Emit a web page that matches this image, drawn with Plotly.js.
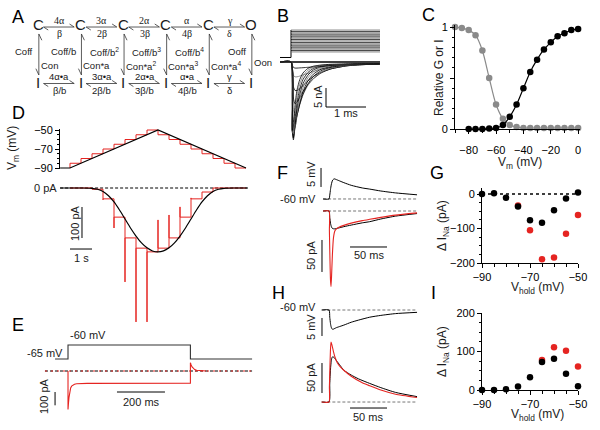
<!DOCTYPE html>
<html><head><meta charset="utf-8">
<script src="https://cdn.plot.ly/plotly-3.0.1.min.js"></script>
<style>html,body{margin:0;padding:0;background:#fff}#chart{width:600px;height:430px}</style>
</head><body><div id="chart"></div>
<script>
// ================= DATA =================
// A: kinetic scheme
const topStates = ['C','C','C','C','C','O'];
const bottomStates = ['I','I','I','I','I','I'];
const fwdTop = ['4α','3α','2α','α','γ'];
const bwdTop = ['β','2β','3β','4β','δ'];
const fwdBot = ['4α•a','3α•a','2α•a','α•a','γ'];
const bwdBot = ['β/b','2β/b','3β/b','4β/b','δ'];
const offLabels = ['Coff','Coff/b','Coff/b<sup>2</sup>','Coff/b<sup>3</sup>','Coff/b<sup>4</sup>','Ooff'];
const onLabels = ['Con','Con*a','Con*a<sup>2</sup>','Con*a<sup>3</sup>','Con*a<sup>4</sup>','Oon'];

// B: voltage steps (mV) and currents (nA) vs time (ms)
const bHold = -100;
const bStepLevels = [-80,-75,-70,-65,-60,-55,-50,-45,-40,-35,-30,-25,-20,-15,-10,-5,0];
const bTime = [-0.27,0,0.03,0.06,0.1,0.15,0.22,0.3,0.42,0.56,0.75,1.0,1.4,1.8,2.22];
const bI1  = [0,0,-0.8,-1.4,-1.6,-1.6,-1.55,-1.5,-1.4,-1.3,-1.1,-0.9,-0.7,-0.55,-0.5];
const bI2  = [0,0,-2,-3.5,-3.9,-3.9,-3.7,-3.4,-3.0,-2.5,-1.9,-1.4,-0.9,-0.6,-0.5];
const bI3  = [0,0,-3.5,-6.5,-7.5,-7.5,-7.0,-6.2,-5.0,-3.8,-2.7,-1.8,-1.0,-0.7,-0.5];
const bI4  = [0,0,-5,-9.5,-11,-10.5,-9.3,-7.8,-6.0,-4.4,-2.9,-1.8,-1.0,-0.7,-0.5];
const bI5  = [0,0,-7,-12.5,-14,-12.8,-10.8,-8.6,-6.2,-4.3,-2.7,-1.6,-0.9,-0.6,-0.5];
const bI6  = [0,0,-9,-15.5,-16.2,-14,-11.2,-8.5,-5.8,-3.8,-2.3,-1.4,-0.8,-0.6,-0.5];
const bI7  = [0,0,-11.5,-18,-17.3,-14.2,-10.8,-7.8,-5.0,-3.2,-1.9,-1.2,-0.7,-0.55,-0.5];
const bI8  = [0,0,-14,-19.8,-17.5,-13.5,-9.8,-6.8,-4.2,-2.6,-1.6,-1.0,-0.7,-0.5,-0.45];
const bI9  = [0,0,-16.5,-20.5,-16.8,-12.2,-8.5,-5.7,-3.5,-2.1,-1.3,-0.9,-0.6,-0.5,-0.45];
const bI10 = [0,0,-18,-20,-15.3,-10.6,-7.1,-4.6,-2.8,-1.7,-1.1,-0.8,-0.6,-0.5,-0.45];
const bI11 = [0,0,-18.5,-18.8,-13.5,-9.0,-5.8,-3.7,-2.2,-1.4,-0.9,-0.7,-0.55,-0.45,-0.4];
const bI12 = [0,0,-18,-17,-11.5,-7.4,-4.6,-2.9,-1.7,-1.1,-0.8,-0.6,-0.5,-0.45,-0.4];
const bCurrents = [bI1,bI2,bI3,bI4,bI5,bI6,bI7,bI8,bI9,bI10,bI11,bI12];

// C: relative G (activation) and I (inactivation)
const cInactV = [-90,-85,-80,-75,-70,-65,-60,-55,-50,-45,-40,-35,-30,-25,-20,-15,-10,-5,0];
const cInact  = [1.0,0.99,0.97,0.92,0.77,0.50,0.24,0.10,0.04,0.02,0.01,0.01,0.01,0.01,0.01,0.01,0.01,0.01,0.01];
const cActV = [-80,-75,-70,-65,-60,-55,-50,-45,-40,-35,-30,-25,-20,-15,-10,-5,0];
const cAct  = [0,0,0,0.005,0.01,0.04,0.12,0.24,0.40,0.56,0.68,0.78,0.85,0.91,0.94,0.97,0.98];

// D: ramp vs staircase (time in s, V in mV, I in pA)
const dRampT = [-0.45,0,4,8];
const dRampV = [-90,-90,-50,-90];
const dStepT = [0,0.5,1,1.5,2,2.5,3,3.5,4,4.5,5,5.5,6,6.5,7,7.5];
const dStepDur = 0.5;
const dStepV = [-85,-80,-75,-70,-65,-60,-55,-50,-55,-60,-65,-70,-75,-80,-85,-90];
const dStepSpike = [0,0,-4,-38,-129,-303,-432,-432,-103,-87,-61,-32,-13,0,0,0];
const dStepLevel = [0,0,-4,-35,-94,-161,-194,-206,-194,-161,-94,-35,-13,0,0,0];
const dFitT = [-0.45,0,0.5,1,1.25,1.5,1.75,2,2.25,2.5,2.75,3,3.25,3.5,3.75,4,4.25,4.5,4.75,5,5.25,5.5,5.75,6,6.25,6.5,6.75,7,7.5,8.05];
const dFitI = [0,0,0,-1,-4,-11,-25,-45,-71,-100,-129,-155,-177,-193,-203,-206,-203,-193,-177,-155,-129,-100,-71,-45,-25,-11,-4,-1,0,0];

// E: step -65 -> -60 mV (time ms, I pA)
const eVT = [-54,0,0,510,510,767];
const eVV = [-65,-65,-60,-60,-65,-65];
const eIT = [0,0,2,4,6,8,11,15,20,27,36,50,80,510,510,513,517,522,528,536,546,560,575];
const eII = [0,-290,-240,-200,-170,-148,-128,-114,-106,-100,-96,-94,-93,-92,62,45,30,19,11,6,3,1,0];

// F: depolarizing waveform (time ms)
const fT  = [-8,0,1,2,3,4,5,7,10,15,20,30,45,55,70,90,119];
const fV  = [-60,-60,-59,-57.5,-56.3,-55.5,-55.0,-54.7,-54.9,-55.3,-55.7,-56.4,-57.1,-57.4,-57.9,-58.4,-58.9];
const fIBlack = [0,0,-10,-19,-24,-26.5,-27.5,-28,-27.3,-26,-24.5,-22,-18.5,-16.7,-12.5,-8,-4];
const fTRed = [-8,0,0.5,1,1.5,2,2.7,3.5,4.5,6,8,10,14,20,30,45,55,70,90,119];
const fIRed = [0,0,-30,-60,-88,-108,-118,-100,-70,-42,-31,-28,-25,-22.5,-19,-15,-13,-10,-6.5,-3];

// H: hyperpolarizing waveform
const hT  = [-10,0,1,2,3,4,5,7,10,15,20,30,40,55,70,90,119];
const hV  = [-60,-60,-62,-63.8,-64.8,-65.2,-65.4,-65.2,-64.9,-64.55,-64.2,-63.4,-62.8,-62.0,-61.5,-61.0,-60.65];
const hIBlack = [0,0,30,55,68,74,75.5,74,69,61,53,45,38.5,31,24,16,9];
const hTRed = [-10,0,0.5,1,1.5,2,2.7,4,6,8,11,15,20,30,45,55,70,90,119];
const hIRed = [0,0,25,48,70,88,100,95,84,75,66,59,53,43,32,27,20,13,7.5];

// G / I: delta I_Na vs holding potential
const gV = [-90,-85,-80,-75,-70,-65,-60,-55,-50];
const gBlack = [0,2,-11,-36,-76,-83,-47,-13,4];
const gRedV = [-75,-70,-65,-60,-55,-50];
const gRed  = [-33,-105,-189,-184,-115,-61];
const iBlack = [0,0,2,9,33,73,81,42,10];
const iRedV = [-65,-60,-55,-50];
const iRed  = [78,111,102,61];

// ================= LAYOUT HELPERS =================
const W = 600, H = 430;
const FONT = 'Arial, "Liberation Sans", Helvetica, sans-serif';
const SERIF = '"Liberation Serif", "DejaVu Serif", serif';
const RED = '#e52421', GRAY = '#8a8a8a', DGRAY = '#777';
const xd = (a, b) => [a / W, b / W];
const yd = (top, bottom) => [1 - bottom / H, 1 - top / H];
const traces = [];
function L(xa, ya, x, y, o) {
  o = o || {};
  traces.push({type: 'scatter', mode: 'lines', xaxis: xa, yaxis: ya, x: x, y: y,
    hoverinfo: 'skip', showlegend: false, cliponaxis: false,
    line: {color: o.color || '#000', width: o.width || 1, dash: o.dash || 'solid',
      shape: o.shape || 'linear', smoothing: o.smoothing === undefined ? 1 : o.smoothing}});
}
function M(xa, ya, x, y, color, size) {
  traces.push({type: 'scatter', mode: 'markers', xaxis: xa, yaxis: ya, x: x, y: y,
    hoverinfo: 'skip', showlegend: false, cliponaxis: false,
    marker: {color: color, size: size || 6.5, line: {width: 0}}});
}
const hidden = (domx, domy, rx, ry, ax) => [
  {domain: domx, range: rx, visible: false, fixedrange: true, anchor: 'y' + ax},
  {domain: domy, range: ry, visible: false, fixedrange: true, anchor: 'x' + ax}];
const axStyle = {visible: true, showline: true, linecolor: '#000', linewidth: 1, ticks: 'outside',
  ticklen: 4, tickwidth: 1, tickcolor: '#000', showgrid: false, zeroline: false,
  tickfont: {size: 11, color: '#000', family: FONT}, fixedrange: true};

const layout = {width: W, height: H, margin: {l: 0, r: 0, t: 0, b: 0},
  paper_bgcolor: '#fff', plot_bgcolor: 'rgba(0,0,0,0)', showlegend: false,
  font: {family: FONT, color: '#1a1a1a', size: 11}, annotations: []};

// Panel A scheme axis: state index -> pixels
const A_X0 = 38, A_DX = 42.6, A_Y0 = 82, A_DY = 58;
const aPx = i => A_X0 + A_DX * i;
const aPy = v => A_Y0 - A_DY * v;
function ann(text, x, y, o) {
  o = o || {};
  layout.annotations.push({text: text, x: x / W, y: 1 - y / H, xref: 'paper', yref: 'paper',
    showarrow: false, xanchor: o.xanchor || 'center', yanchor: 'middle', textangle: o.angle || 0,
    font: {size: o.size || 11, color: o.color || '#1a1a1a', family: o.family || FONT}});
}
function schemeText(xs, ys, texts, size, xanchor, family) {
  xs.forEach((x, i) => ann(texts[i], aPx(x), aPy(ys[i]), {size: size, xanchor: xanchor, family: family}));
}

// ================= PANEL A =================
const idx = topStates.map((_, i) => i);
const mid = fwdTop.map((_, i) => i + 0.5);
const aCol = '#333';
for (let i = 0; i < fwdTop.length; i++) {
  L('x', 'y', [i + 0.13, i + 0.85], [0.948, 0.948], {color: aCol, width: 0.8});
  L('x', 'y', [i + 0.85, i + 0.74], [0.948, 1.0], {color: aCol, width: 0.8});
  L('x', 'y', [i + 0.13, i + 0.24], [0.948, 0.896], {color: aCol, width: 0.8});
  L('x', 'y', [i + 0.13, i + 0.85], [-0.026, -0.026], {color: aCol, width: 0.8});
  L('x', 'y', [i + 0.85, i + 0.74], [-0.026, 0.026], {color: aCol, width: 0.8});
  L('x', 'y', [i + 0.13, i + 0.24], [-0.026, -0.078], {color: aCol, width: 0.8});
}
idx.forEach(i => {
  L('x', 'y', [i + 0.02, i + 0.02], [0.828, 0.121], {color: aCol, width: 0.8});
  L('x', 'y', [i + 0.02, i + 0.09], [0.828, 0.72], {color: aCol, width: 0.8});
  L('x', 'y', [i + 0.02, i - 0.05], [0.121, 0.23], {color: aCol, width: 0.8});
});
schemeText(idx, idx.map(() => 1), topStates, 15);
schemeText(idx, idx.map(() => 0), bottomStates, 15);
schemeText(mid, mid.map(() => 1.06), fwdTop, 10, 'center', SERIF);
schemeText(mid, mid.map(() => 0.84), bwdTop, 10, 'center', SERIF);
schemeText(mid, mid.map(() => 0.09), fwdBot, 9.5);
schemeText(mid, mid.map(() => -0.14), bwdBot, 9.5);
schemeText(idx.map(i => i - 0.06), idx.map(() => 0.52), offLabels, 9.5, 'right');
// "on" labels sit right of each vertical arrow; centred on an estimated label centre
const onCentre = [0.26, 0.37, 0.41, 0.41, 0.41, 0.28];
schemeText(idx.map(i => i + onCentre[i]), idx.map(i => i === 5 ? 0.33 : 0.28), onLabels, 9.5, 'center');

// ================= PANEL B =================
L('x2', 'y2', [-0.275, 0, 0], [bHold, bHold, bStepLevels[bStepLevels.length - 1]], {color: '#000', width: 1});
bStepLevels.forEach((v, k) => L('x2', 'y2', [0, 2.225], [v, v], {color: k % 2 ? '#000' : DGRAY, width: 0.8}));
L('x3', 'y3', [-0.275, 2.225], [0, 0], {color: '#000', width: 1.4});
bCurrents.forEach((arr, k) => L('x3', 'y3', bTime, arr, {color: k % 3 === 1 ? DGRAY : '#000', width: 0.8, shape: 'spline', smoothing: 0.6}));
L('x3', 'y3', [0.875, 0.875, 1.875], [-6.84, -11.84, -11.84], {width: 1});

// ================= PANEL C =================
L('x4', 'y4', cInactV, cInact, {color: GRAY, width: 1.2, shape: 'spline', smoothing: 0.8});
L('x4', 'y4', cActV, cAct, {color: '#000', width: 1.2, shape: 'spline', smoothing: 0.8});
M('x4', 'y4', cInactV, cInact, GRAY, 6.5);
M('x4', 'y4', cActV, cAct, '#000', 6.5);

// ================= PANEL D =================
const dRedVx = [0], dRedVy = [-90];
dStepT.forEach((t, k) => { dRedVx.push(t, t + dStepDur); dRedVy.push(dStepV[k], dStepV[k]); });
L('x5', 'y5', dRedVx, dRedVy, {color: RED, width: 1});
L('x5', 'y5', dRampT, dRampV, {color: '#000', width: 1.2});
L('x6', 'y6', [-0.45, 8.09], [0, 0], {color: '#000', width: 1, dash: '3px,2px'});
const dRedIx = [0], dRedIy = [0];
dStepT.forEach((t, k) => { dRedIx.push(t, t, t + dStepDur); dRedIy.push(dStepSpike[k], dStepLevel[k], dStepLevel[k]); });
L('x6', 'y6', dRedIx, dRedIy, {color: RED, width: 1});
L('x6', 'y6', dFitT, dFitI, {color: '#000', width: 1.2, shape: 'spline', smoothing: 0.8});
L('x6', 'y6', [0.545, 0.545], [-61.3, -161.3], {width: 1});
L('x6', 'y6', [0, 1], [-196.8, -196.8], {width: 1});

// ================= PANEL E =================
L('x7', 'y7', eVT, eVV, {color: '#333', width: 1.1});
L('x8', 'y8', [-96, 767], [0, 0], {color: '#000', width: 1, dash: '3px,2px'});
L('x8', 'y8', [-96, 767], [0, 0], {color: RED, width: 1, dash: '2px,4px'});
L('x8', 'y8', eIT, eII, {color: RED, width: 1.1});
L('x8', 'y8', [-54, -54], [-158, -258], {width: 1});
L('x8', 'y8', [204, 404], [-158, -158], {width: 1});

// ================= PANEL F =================
L('x9', 'y9', [-8, 119], [-60, -60], {color: DGRAY, width: 1, dash: '3px,2px'});
L('x9', 'y9', fT, fV, {color: '#000', width: 1, shape: 'spline', smoothing: 0.6});
L('x10', 'y10', [-8, 119], [0, 0], {color: DGRAY, width: 1, dash: '3px,2px'});
L('x10', 'y10', fT, fIBlack, {color: '#000', width: 1, shape: 'spline', smoothing: 0.6});
L('x10', 'y10', fTRed, fIRed, {color: RED, width: 1.1, shape: 'spline', smoothing: 0.5});
L('x9', 'y9', [-10.8, -10.8], [-51.84, -56.84], {width: 1});
L('x10', 'y10', [-9.5, -9.5], [-45.3, -95.3], {width: 1});
L('x10', 'y10', [28.4, 78.4], [-56.25, -56.25], {width: 1});

// ================= PANEL H =================
L('x11', 'y11', [-9, 119], [-60, -60], {color: DGRAY, width: 1, dash: '3px,2px'});
L('x11', 'y11', hT, hV, {color: '#000', width: 1, shape: 'spline', smoothing: 0.6});
L('x12', 'y12', [-9, 119], [0, 0], {color: DGRAY, width: 1, dash: '3px,2px'});
L('x12', 'y12', hT, hIBlack, {color: '#000', width: 1, shape: 'spline', smoothing: 0.6});
L('x12', 'y12', hTRed, hIRed, {color: RED, width: 1.1, shape: 'spline', smoothing: 0.5});
L('x11', 'y11', [-9.5, -9.5], [-62.22, -67.22], {width: 1});
L('x12', 'y12', [-9.5, -9.5], [65, 15], {width: 1});
L('x12', 'y12', [28.4, 78.4], [-10, -10], {width: 1});

// ================= PANEL G / I =================
L('x13', 'y13', [-90, -50], [0, 0], {color: '#000', width: 1.3, dash: 'dot'});
M('x13', 'y13', gRedV, gRed, RED, 6.5);
M('x13', 'y13', gV, gBlack, '#000', 6.5);
M('x14', 'y14', iRedV, iRed, RED, 6.5);
M('x14', 'y14', gV, iBlack, '#000', 6.5);

// ================= AXES =================
function setAx(n, pair) {
  layout[n === 1 ? 'xaxis' : 'xaxis' + n] = pair[0];
  layout[n === 1 ? 'yaxis' : 'yaxis' + n] = pair[1];
}
setAx(1, hidden(xd(0, 280), yd(0, 110), [(0 - A_X0) / A_DX, (280 - A_X0) / A_DX],
  [(A_Y0 - 110) / A_DY, (A_Y0 - 0) / A_DY], ''));
layout.xaxis.anchor = 'y'; layout.yaxis.anchor = 'x';
setAx(2, hidden(xd(280, 382), yd(24, 62), [-0.275, 2.275], [-116.4, 21.8], 2));
setAx(3, hidden(xd(280, 382), yd(56, 145), [-0.275, 2.275], [-21.84, 1.58], 3));
setAx(4, [
  Object.assign({}, axStyle, {domain: xd(455, 579.5), range: [-90, 1], anchor: 'y4',
    tickmode: 'linear', tick0: -80, dtick: 20, ticklabelstandoff: 7,
    minor: {ticks: 'outside', ticklen: 2.5, tickcolor: '#000', tick0: -90, dtick: 10}}),
  Object.assign({}, axStyle, {domain: yd(25, 129), range: [0, 1.02], anchor: 'x4',
    tickmode: 'array', tickvals: [0, 0.5, 1], ticktext: ['0', '', '1'],
    minor: {ticks: 'outside', ticklen: 2.5, tickcolor: '#000', tick0: 0, dtick: 0.1}})]);
setAx(5, [
  {domain: xd(60, 250), range: [-0.4545, 8.182], visible: false, fixedrange: true, anchor: 'y5'},
  Object.assign({}, axStyle, {domain: yd(129, 169), range: [-91.05, -48.95], anchor: 'x5',
    tickmode: 'linear', tick0: -90, dtick: 20,
    minor: {ticks: 'outside', ticklen: 2.5, tickcolor: '#000', tick0: -90, dtick: 5}})]);
setAx(6, hidden(xd(60, 250), yd(180, 330), [-0.4545, 8.182], [-458, 25.8], 6));
setAx(7, hidden(xd(40, 260), yd(330, 366), [-116.7, 800], [-67.5, -54.6], 7));
setAx(8, hidden(xd(40, 260), yd(358, 415), [-116.7, 800], [-330.8, 97.7], 8));
setAx(9, hidden(xd(318, 420), yd(163, 204), [-14.9, 123], [-61.32, -50.53], 9));
setAx(10, hidden(xd(318, 420), yd(205, 292), [-14.9, 123], [-126.6, 9.375], 10));
setAx(11, hidden(xd(318, 420), yd(300, 342), [-14.9, 123], [-68.89, -57.22], 11));
setAx(12, hidden(xd(318, 420), yd(335, 410), [-14.9, 123], [-13.3, 111.7], 12));
setAx(13, [
  Object.assign({}, axStyle, {domain: xd(482, 578), range: [-90, -50], anchor: 'y13',
    tickmode: 'linear', tick0: -90, dtick: 20,
    minor: {ticks: 'outside', ticklen: 2.5, tickcolor: '#000', tick0: -90, dtick: 5}}),
  Object.assign({}, axStyle, {domain: yd(188, 263), range: [-200, 17.4], anchor: 'x13',
    tickmode: 'linear', tick0: 0, dtick: 100,
    minor: {ticks: 'outside', ticklen: 2.5, tickcolor: '#000', tick0: 0, dtick: 25}})]);
setAx(14, [
  Object.assign({}, axStyle, {domain: xd(482, 578), range: [-90, -50], anchor: 'y14',
    tickmode: 'linear', tick0: -90, dtick: 20,
    minor: {ticks: 'outside', ticklen: 2.5, tickcolor: '#000', tick0: -90, dtick: 5}}),
  Object.assign({}, axStyle, {domain: yd(313, 390), range: [0, 200], anchor: 'x14',
    tickmode: 'linear', tick0: 0, dtick: 100,
    minor: {ticks: 'outside', ticklen: 2.5, tickcolor: '#000', tick0: 0, dtick: 25}})]);

// ================= TEXT =================
[['A', 18, 17], ['B', 283, 16], ['C', 428, 15], ['D', 18, 113], ['E', 18, 325],
 ['F', 282, 173], ['G', 437, 173], ['H', 278, 293], ['I', 433, 293]]
  .forEach(p => ann(p[0], p[1], p[2], {size: 18, color: '#000'}));
ann('5 nA', 318, 97, {angle: -90});
ann('1 ms', 346, 113);
ann('Relative G or I', 439, 78, {angle: -90, size: 12});
ann('V<sub>m</sub> (mV)', 520, 163, {size: 12});
ann('V<sub>m</sub> (mV)', 13, 148, {angle: -90, size: 12});
ann('0 pA', 59, 188, {xanchor: 'right'});
ann('100 pA', 75, 223, {angle: -90});
ann('1 s', 81, 258);
ann('-65 mV', 45, 353);
ann('-60 mV', 88, 335);
ann('100 pA', 44, 396, {angle: -90});
ann('200 ms', 141, 402);
ann('5 mV', 311, 174, {angle: -90});
ann('-60 mV', 318, 199, {xanchor: 'right'});
ann('50 pA', 311, 256, {angle: -90});
ann('50 ms', 369, 255);
ann('-60 mV', 318, 307, {xanchor: 'right'});
ann('5 mV', 311, 327, {angle: -90});
ann('50 pA', 311, 378, {angle: -90});
ann('50 ms', 368, 417);
ann('Δ I<sub>Na</sub> (pA)', 443, 226, {angle: -90, size: 12});
ann('V<sub>hold</sub> (mV)', 537, 288, {size: 12});
ann('Δ I<sub>Na</sub> (pA)', 443, 352, {angle: -90, size: 12});
ann('V<sub>hold</sub> (mV)', 537, 415, {size: 12});

Plotly.newPlot('chart', traces, layout, {staticPlot: true, displayModeBar: false});
</script></body></html>
